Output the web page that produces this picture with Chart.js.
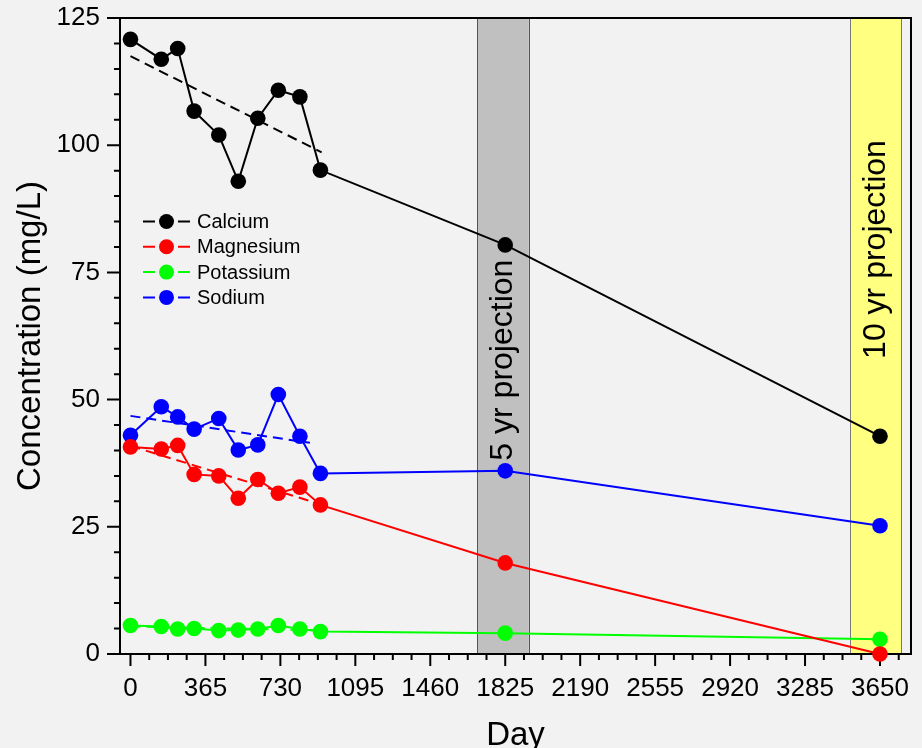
<!DOCTYPE html>
<html lang="en">
<head>
    <meta charset="UTF-8">
    <title>Concentration vs Day</title>
    <script src="https://cdn.jsdelivr.net/npm/chart.js"></script>
    <style>
        html, body {
            margin: 0;
            padding: 0;
            background-color: #f2f2f2;
        }
        canvas {
            display: block;
        }
    </style>
</head>
<body>
    <canvas id="concChart" width="922" height="748"></canvas>

    <script>
        // Sampling days (last two are the 5 and 10 year projections)
        const days = [0, 150, 230, 310, 430, 525, 620, 720, 825, 925, 1825, 3650];

        const elements = ['Calcium', 'Magnesium', 'Potassium', 'Sodium'];
        const calcium   = [120.8, 116.9, 119.0, 106.7, 102.0, 92.9, 105.3, 110.8, 109.5, 95.1, 80.4, 42.8];
        const magnesium = [40.7, 40.3, 41.0, 35.3, 35.0, 30.6, 34.3, 31.6, 32.8, 29.3, 17.9, 0];
        const potassium = [5.6, 5.4, 4.9, 5.0, 4.6, 4.7, 4.9, 5.6, 4.9, 4.4, 4.1, 2.9];
        const sodium    = [43.0, 48.6, 46.6, 44.2, 46.3, 40.1, 41.1, 51.0, 42.8, 35.5, 36.0, 25.2];

        // Linear trend over the measured period: [start, end] for each element
        const trendDays = [[0, 931], [0, 889], [0, 890], [0, 874]];
        const trendValues = [[117.5, 98.6], [40.9, 29.9], [5.4, 4.7], [46.8, 41.5]];

        // Projection windows
        const bandStarts = [1688, 3505];
        const bandEnds = [1940, 3755];
        const bandLabels = ['5 yr projection', '10 yr projection'];

        // Axis ticks
        const xTicks = [0, 365, 730, 1095, 1460, 1825, 2190, 2555, 2920, 3285, 3650];
        const yTicks = [0, 25, 50, 75, 100, 125];
        const xMinorStep = 91.25;
        const yMinorStep = 5;

        const colors = ['#000000', '#ff0000', '#00ff00', '#0000ff'];
        const FONT = "'Liberation Sans', Arial, sans-serif";

        Chart.defaults.font.family = FONT;
        Chart.defaults.color = '#000';

        const series = [calcium, magnesium, potassium, sodium];

        const mainSets = series.map((vals, i) => ({
            label: elements[i],
            data: days.map((d, k) => ({ x: d, y: vals[k] })),
            borderColor: colors[i],
            backgroundColor: colors[i],
            borderWidth: 2,
            pointRadius: 7.8,
            pointHoverRadius: 7.8,
            pointBorderWidth: 0,
            pointBackgroundColor: colors[i],
            tension: 0,
            clip: false
        }));

        const trendSets = trendValues.map((vals, i) => ({
            label: elements[i] + ' trend',
            data: trendDays[i].map((d, k) => ({ x: d, y: vals[k] })),
            borderColor: colors[i],
            borderWidth: 2,
            borderDash: [10, 6],
            pointRadius: 0,
            pointHoverRadius: 0,
            tension: 0,
            clip: false
        }));

        // Shaded projection bands, their labels, the frame and the tick marks
        const backdrop = {
            id: 'backdrop',
            beforeDatasetsDraw(chart) {
                const { ctx, chartArea: a, scales: { x, y } } = chart;
                const fills = ['#c0c0c0', '#ffff80'];
                const edges = ['#555555', '#7a7a7a'];
                const labelStart = [38, 58];

                ctx.save();
                bandStarts.forEach((s, i) => {
                    const l = x.getPixelForValue(s);
                    const r = x.getPixelForValue(bandEnds[i]);
                    ctx.fillStyle = fills[i];
                    ctx.fillRect(l, a.top, r - l, a.bottom - a.top);
                    ctx.strokeStyle = edges[i];
                    ctx.lineWidth = 1;
                    ctx.strokeRect(Math.round(l) + 0.5, a.top, Math.round(r - l), a.bottom - a.top);

                    ctx.save();
                    ctx.translate((l + r) / 2, y.getPixelForValue(labelStart[i]));
                    ctx.rotate(-Math.PI / 2);
                    ctx.fillStyle = '#000';
                    ctx.font = '32px ' + FONT;
                    ctx.textAlign = 'left';
                    ctx.textBaseline = 'middle';
                    ctx.fillText(bandLabels[i], 0, 0);
                    ctx.restore();
                });

                // frame
                ctx.strokeStyle = '#000';
                ctx.lineWidth = 2;
                ctx.strokeRect(a.left, a.top, a.right - a.left, a.bottom - a.top);

                // y ticks (outward, left)
                ctx.beginPath();
                for (let v = 0; v <= 125; v += yMinorStep) {
                    const py = y.getPixelForValue(v);
                    const len = yTicks.includes(v) ? 13 : 6;
                    ctx.moveTo(a.left, py);
                    ctx.lineTo(a.left - len, py);
                }
                // x ticks (outward, down)
                for (let v = 0; v <= x.max; v += xMinorStep) {
                    const px = x.getPixelForValue(v);
                    const len = xTicks.includes(v) ? 12 : 6;
                    ctx.moveTo(px, a.bottom);
                    ctx.lineTo(px, a.bottom + len);
                }
                ctx.stroke();
                ctx.restore();
            }
        };

        // Legend with line-marker-line samples inside the plot
        const markerLegend = {
            id: 'markerLegend',
            afterDatasetsDraw(chart) {
                const { ctx, chartArea: a } = chart;
                const x0 = a.left + 23;
                const y0 = a.top + 203.5;
                ctx.save();
                ctx.font = '20px ' + FONT;
                ctx.textBaseline = 'middle';
                ctx.textAlign = 'left';
                elements.forEach((name, i) => {
                    const yy = y0 + i * 25.3;
                    ctx.strokeStyle = colors[i];
                    ctx.lineWidth = 2;
                    ctx.beginPath();
                    ctx.moveTo(x0, yy);
                    ctx.lineTo(x0 + 12, yy);
                    ctx.moveTo(x0 + 35, yy);
                    ctx.lineTo(x0 + 47, yy);
                    ctx.stroke();
                    ctx.fillStyle = colors[i];
                    ctx.beginPath();
                    ctx.arc(x0 + 23.5, yy, 7.5, 0, Math.PI * 2);
                    ctx.fill();
                    ctx.fillStyle = '#000';
                    ctx.fillText(name, x0 + 54, yy + 1);
                });
                ctx.restore();
            }
        };

        const ctx = document.getElementById('concChart').getContext('2d');
        new Chart(ctx, {
            type: 'line',
            data: { datasets: mainSets.concat(trendSets) },
            options: {
                responsive: false,
                devicePixelRatio: 1,
                animation: false,
                events: [],
                layout: { padding: { top: 18, right: 11, left: 0, bottom: 0 } },
                plugins: {
                    legend: { display: false },
                    tooltip: { enabled: false }
                },
                scales: {
                    x: {
                        type: 'linear',
                        min: -51,
                        max: 3801,
                        grid: { display: false, drawTicks: false },
                        border: { display: false },
                        afterBuildTicks(scale) {
                            scale.ticks = xTicks.map(v => ({ value: v }));
                        },
                        afterFit(scale) {
                            scale.height = 94;
                            scale.paddingLeft = 0;
                            scale.paddingRight = 0;
                        },
                        ticks: {
                            autoSkip: false,
                            maxRotation: 0,
                            padding: 19,
                            font: { size: 26 },
                            callback: v => String(v)
                        },
                        title: {
                            display: true,
                            text: 'Day',
                            font: { size: 33, lineHeight: 1 },
                            padding: { top: 0, bottom: -4.5 }
                        }
                    },
                    y: {
                        min: 0,
                        max: 125,
                        grid: { display: false, drawTicks: false },
                        border: { display: false },
                        afterBuildTicks(scale) {
                            scale.ticks = yTicks.map(v => ({ value: v }));
                        },
                        afterFit(scale) {
                            scale.width = 120;
                            scale.paddingTop = 0;
                            scale.paddingBottom = 0;
                        },
                        ticks: {
                            padding: 20,
                            font: { size: 26 },
                            callback: v => String(v)
                        },
                        title: {
                            display: true,
                            text: 'Concentration (mg/L)',
                            font: { size: 33, lineHeight: 1 },
                            padding: { top: 14, bottom: 0 }
                        }
                    }
                }
            },
            plugins: [backdrop, markerLegend]
        });
    </script>
</body>
</html>
